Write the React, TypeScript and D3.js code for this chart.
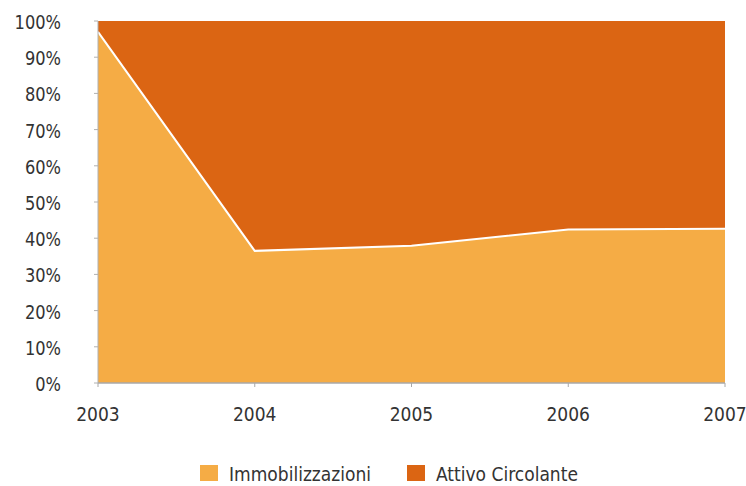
import React from "react";
import * as d3 from "d3";

// Share of total assets per year (percent)
const years = ["2003", "2004", "2005", "2006", "2007"];
const immobilizzazioni = [97, 36.5, 37.9, 42.4, 42.6];
const attivoCircolante = immobilizzazioni.map((v) => 100 - v);
const yTicks = [0, 10, 20, 30, 40, 50, 60, 70, 80, 90, 100];
const seriesNames = ["Immobilizzazioni", "Attivo Circolante"];
const colors = ["#F5AC45", "#DB6513"];

const W = 746;
const H = 486;
const M = { left: 98, right: 21, top: 21, bottom: 103 };
const FONT = "'DejaVu Sans Condensed', sans-serif";

export default function App() {
  const x = d3
    .scalePoint<string>()
    .domain(years)
    .range([M.left, W - M.right]);
  const y = d3
    .scaleLinear()
    .domain([0, 100])
    .range([H - M.bottom, M.top]);

  const rows = years.map((yr, i) => ({
    year: yr,
    a: immobilizzazioni[i],
    b: attivoCircolante[i],
  }));
  const stack = d3.stack<any>().keys(["a", "b"])(rows);

  const area = d3
    .area<any>()
    .x((d) => x(d.data.year)!)
    .y0((d) => y(d[0]))
    .y1((d) => y(d[1]));

  const boundary = d3
    .line<any>()
    .x((d) => x(d.year)!)
    .y((d) => y(d.a));

  const x0 = M.left;
  const x1 = W - M.right;
  const yb = y(0);

  return (
    <svg width={W} height={H} style={{ position: "absolute", left: 0, top: 0 }}>
      {stack.map((s, i) => (
        <path key={i} d={area(s) ?? ""} fill={colors[i]} />
      ))}
      <path d={boundary(rows) ?? ""} fill="none" stroke="#fff" strokeWidth={2} />

      {/* y axis */}
      <line x1={x0} x2={x0} y1={y(100)} y2={yb} stroke="#b0b0b0" strokeWidth={1} />
      {yTicks.map((t) => (
        <g key={t}>
          <line x1={x0 - 4} x2={x0} y1={y(t)} y2={y(t)} stroke="#b0b0b0" />
          <text
            x={61}
            y={y(t) + 8}
            textAnchor="end"
            fontFamily={FONT}
            fontSize={19}
            fill="#333"
            transform={`translate(61,0) scale(0.95,1) translate(-61,0)`}
          >
            {t}%
          </text>
        </g>
      ))}

      {/* x axis */}
      <line x1={x0} x2={x1} y1={yb} y2={yb} stroke="#a8a8a8" strokeWidth={1.5} />
      {years.map((yr) => (
        <g key={yr}>
          <line x1={x(yr)} x2={x(yr)} y1={yb} y2={yb + 4} stroke="#a8a8a8" />
          <text
            x={x(yr)}
            y={421}
            textAnchor="middle"
            fontFamily={FONT}
            fontSize={19}
            fill="#333"
          >
            {yr}
          </text>
        </g>
      ))}

      {/* legend */}
      {seriesNames.map((name, i) => {
        const lx = i === 0 ? 200 : 407;
        return (
          <g key={name}>
            <rect x={lx} y={465} width={18} height={16} fill={colors[i]} />
            <text x={lx + 29} y={481} fontFamily={FONT} fontSize={19} fill="#333">
              {name}
            </text>
          </g>
        );
      })}
    </svg>
  );
}
